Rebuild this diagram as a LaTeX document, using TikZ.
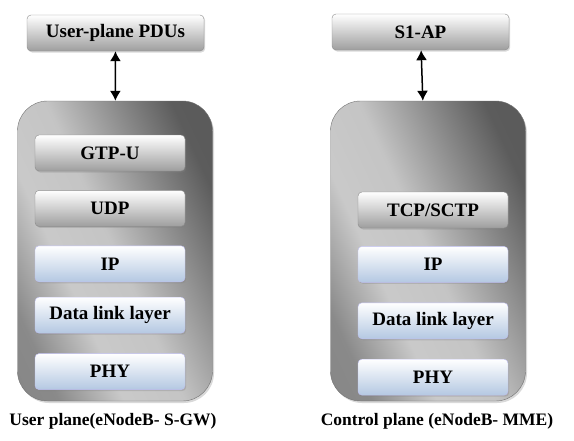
\documentclass[tikz,border=0pt]{standalone}
\usepackage{fontspec}
\setmainfont{Liberation Serif}
\usetikzlibrary{positioning,shadows,arrows.meta}

\pgfdeclarehorizontalshading{stackshade}{100bp}{color(0bp)=(black!50); color(25bp)=(black!46); color(38bp)=(black!21); color(50bp)=(black!23); color(75bp)=(black!64); color(100bp)=(black!66)}

\begin{document}
\begin{tikzpicture}[x=1pt,y=-1pt,
	greylayer/.style={draw=black!45, rounded corners=4pt, top color=white, bottom color=black!38,
		minimum width=150pt, minimum height=36pt, inner sep=0pt,
		font=\bfseries\fontsize{19}{21}\selectfont,
		drop shadow={opacity=0.3, shadow xshift=1.2pt, shadow yshift=-1.5pt}},
	bluelayer/.style={greylayer, draw=black!20!blue!25, top color=white,
		bottom color={rgb,255:red,180;green,200;blue,226}},
	stackbox/.style={draw=black!55, rounded corners=30pt, shading=stackshade, shading angle=25,
		minimum width=195pt, minimum height=300pt,
		drop shadow={opacity=0.3, shadow xshift=1.5pt, shadow yshift=-2pt}},
	planecap/.style={font=\bfseries\fontsize{17.5}{20}\selectfont},
	updown/.style={{Latex[length=10pt,width=11pt]}-{Latex[length=10pt,width=11pt]}, line width=1.5pt}
	]
	\useasboundingbox (0,0) rectangle (574,440);

	% user plane
	\node[greylayer, minimum width=177pt] (updu) at (115.5,33) {User-plane PDUs};
	\node[stackbox] (stackU) at (115,251) {};
	\node[greylayer] (gtpu) at (110,153) {GTP-U};
	\node[greylayer, below=19pt of gtpu] (udpU) {UDP};
	\node[bluelayer, below=19pt of udpU] (ipU) {IP};
	\node[bluelayer, below=15pt of ipU] (dllU) {Data link layer};
	\node[bluelayer, below=20pt of dllU] (phyU) {PHY};
	\node[planecap] (capU) at (113,421) {User plane(eNodeB- S-GW)};
	\draw[updown] (updu) -- (stackU);

	% control plane
	\node[greylayer, minimum width=177pt] (s1ap) at (420.5,32) {S1-AP};
	\node[stackbox] (stackC) at (428,251) {};
	\node[greylayer] (sctp) at (433,210) {TCP/SCTP};
	\node[bluelayer, below=18pt of sctp] (ipC) {IP};
	\node[bluelayer, below=20pt of ipC] (dllC) {Data link layer};
	\node[bluelayer, below=20pt of dllC] (phyC) {PHY};
	\node[planecap] (capC) at (437,421) {Control plane (eNodeB- MME)};
	\draw[updown] (s1ap) -- (stackC);
\end{tikzpicture}
\end{document}
